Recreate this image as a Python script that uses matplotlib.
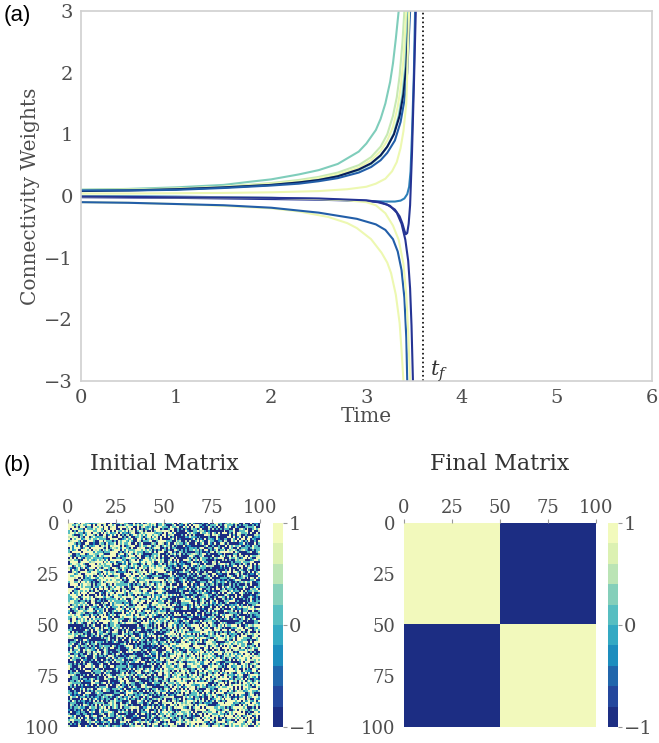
import numpy as np
import matplotlib
matplotlib.use("Agg")
import matplotlib.pyplot as plt
from matplotlib.colors import ListedColormap

# ---- data ----
# trajectories of the connectivity weights: (times, weights, colour)
curves = [
    # going up
    ([0, 0.5, 1, 1.5, 1.77, 2.0, 2.29, 2.5, 2.7, 2.92, 3.0, 3.1, 3.15, 3.2, 3.25, 3.28, 3.31, 3.34, 3.37],
     [0.10, 0.115, 0.14, 0.18, 0.23, 0.27, 0.35, 0.42, 0.52, 0.72, 0.85, 1.07, 1.25, 1.5, 1.85, 2.15, 2.55, 3.0, 3.6], '#7fcdbb'),
    ([0, 0.5, 1, 1.5, 2.0, 2.29, 2.5, 2.7, 2.92, 3.05, 3.15, 3.22, 3.28, 3.32, 3.35, 3.38, 3.40, 3.42],
     [0.09, 0.10, 0.12, 0.15, 0.21, 0.26, 0.31, 0.38, 0.50, 0.63, 0.80, 1.0, 1.3, 1.6, 1.95, 2.5, 3.0, 3.6], '#c7e9b4'),
    ([0, 0.5, 1, 1.5, 2.0, 2.29, 2.5, 2.7, 2.92, 3.05, 3.15, 3.22, 3.28, 3.33, 3.36, 3.39, 3.42, 3.44],
     [0.10, 0.11, 0.12, 0.15, 0.20, 0.24, 0.29, 0.35, 0.46, 0.58, 0.73, 0.90, 1.12, 1.45, 1.75, 2.2, 3.0, 3.6], '#edf8b1'),
    ([0, 0.5, 1, 1.5, 2.0, 2.29, 2.5, 2.7, 2.92, 3.05, 3.15, 3.22, 3.29, 3.34, 3.38, 3.41, 3.44, 3.46],
     [0.10, 0.10, 0.11, 0.14, 0.18, 0.22, 0.26, 0.32, 0.42, 0.52, 0.65, 0.80, 1.02, 1.3, 1.65, 2.1, 3.0, 3.6], '#7fcdbb'),
    ([0, 0.5, 1, 1.5, 2.0, 2.29, 2.5, 2.7, 2.92, 3.05, 3.15, 3.22, 3.29, 3.35, 3.39, 3.42, 3.45, 3.47],
     [0.08, 0.09, 0.11, 0.14, 0.18, 0.22, 0.26, 0.32, 0.43, 0.53, 0.66, 0.80, 1.0, 1.3, 1.65, 2.1, 3.0, 3.6], '#081d58'),
    ([0, 0.5, 1, 1.5, 2.0, 2.29, 2.5, 2.7, 2.92, 3.05, 3.15, 3.22, 3.30, 3.36, 3.40, 3.43, 3.46, 3.48],
     [0.09, 0.09, 0.10, 0.13, 0.17, 0.20, 0.24, 0.29, 0.38, 0.47, 0.58, 0.70, 0.90, 1.2, 1.55, 2.0, 3.0, 3.6], '#225ea8'),
    ([0, 0.5, 1, 1.5, 2.0, 2.5, 2.8, 3.0, 3.1, 3.2, 3.27, 3.32, 3.36, 3.39, 3.42, 3.45, 3.47],
     [0.04, 0.04, 0.045, 0.05, 0.06, 0.08, 0.11, 0.15, 0.20, 0.28, 0.40, 0.55, 0.78, 1.05, 1.5, 3.0, 3.6], '#edf8b1'),
    ([0, 1, 2, 2.5, 3.0, 3.2, 3.3, 3.36, 3.40, 3.43, 3.45, 3.465, 3.48, 3.50, 3.52],
     [0.0, -0.01, -0.03, -0.05, -0.08, -0.09, -0.09, -0.075, -0.04, 0.03, 0.15, 0.4, 1.0, 2.0, 3.6], '#2c7fb8'),
    ([0, 1, 2, 2.5, 3.0, 3.12, 3.22, 3.30, 3.35, 3.38, 3.40, 3.415, 3.43, 3.445, 3.46, 3.48, 3.50, 3.53],
     [-0.02, -0.03, -0.05, -0.06, -0.08, -0.10, -0.14, -0.22, -0.33, -0.45, -0.56, -0.62, -0.60, -0.45, -0.15, 0.7, 1.8, 3.6], '#253494'),
    # going down
    ([0, 0.5, 1, 1.5, 2, 2.29, 2.6, 2.8, 2.9, 3.05, 3.16, 3.22, 3.26, 3.31, 3.35, 3.37, 3.39, 3.41],
     [-0.10, -0.11, -0.13, -0.16, -0.20, -0.25, -0.34, -0.44, -0.52, -0.70, -0.92, -1.08, -1.25, -1.6, -2.06, -2.5, -3.0, -3.6], '#edf8b1'),
    ([0, 0.5, 1, 1.5, 2, 2.5, 2.9, 3.1, 3.2, 3.28, 3.33, 3.37, 3.40, 3.42, 3.43, 3.44],
     [-0.10, -0.11, -0.13, -0.15, -0.19, -0.27, -0.37, -0.46, -0.55, -0.70, -0.90, -1.2, -1.65, -2.3, -3.0, -3.6], '#225ea8'),
    ([0, 1, 2, 2.5, 2.8, 3.0, 3.1, 3.2, 3.28, 3.34, 3.39, 3.42, 3.44, 3.46, 3.47],
     [-0.01, -0.02, -0.03, -0.05, -0.07, -0.10, -0.15, -0.28, -0.48, -0.71, -1.1, -1.6, -2.2, -3.0, -3.6], '#edf8b1'),
    ([0, 1, 2, 2.5, 3.0, 3.15, 3.25, 3.32, 3.37, 3.41, 3.44, 3.46, 3.475, 3.49, 3.50],
     [-0.01, -0.02, -0.03, -0.04, -0.07, -0.10, -0.16, -0.27, -0.45, -0.71, -1.05, -1.5, -2.1, -3.0, -3.6], '#253494'),
]
t_final = 3.6

ticks = [0, 25, 50, 75, 100]
n_nodes = 100
# cell values seen in the initial matrix and how often they show up
cell_levels = [-1.0, -0.3, 0.1, 0.5, 1.0]
p_same_block = [0.25, 0.05, 0.25, 0.05, 0.40]
p_other_block = [0.45, 0.05, 0.25, 0.05, 0.20]
final_same, final_other = 1.0, -1.0

# ---- style ----
plt.rcParams['font.family'] = 'DejaVu Serif'
plt.rcParams['mathtext.fontset'] = 'dejavuserif'
txt = '#4d4d4d'

fig = plt.figure(figsize=(6.59, 7.43), dpi=100)

# (a) weights
ax = fig.add_axes([0.1229, 0.4872, 0.866, 0.498])
for t, w, c in curves:
    ax.plot(t, w, color=c, lw=1.5)
ax.axvline(t_final, color='black', ls=':', lw=1.2)
ax.text(t_final + 0.07, -2.92, '$t_f$', fontsize=15, color='#333333')
ax.set_xlim(0, 6)
ax.set_ylim(-3, 3)
ax.set_xticks(range(7))
ax.set_yticks(range(-3, 4))
ax.tick_params(length=0, labelsize=14, labelcolor=txt, pad=6)
for s in ax.spines.values():
    s.set_color('#d0d0d0')
    s.set_linewidth(1.2)
ax.set_xlabel('Time', fontsize=14.5, color=txt, labelpad=0)
ax.set_ylabel('Connectivity Weights', fontsize=14.5, color=txt, labelpad=3)
fig.text(0.006, 0.979, '(a)', fontsize=16, family='Liberation Sans', va='center')

# (b) matrices
grid = plt.get_cmap('YlGnBu')(np.linspace(0, 1, 12)[1:-1])[::-1]
cmap = ListedColormap(grid)

half = n_nodes // 2
same = np.zeros((n_nodes, n_nodes), dtype=bool)
same[:half, :half] = True
same[half:, half:] = True
# texture of the noisy start cannot be read cell by cell, so it is drawn
# with the proportions above
rng = np.random.default_rng(7)
init = np.where(same,
                rng.choice(cell_levels, size=same.shape, p=p_same_block),
                rng.choice(cell_levels, size=same.shape, p=p_other_block))
final = np.where(same, final_same, final_other)

panels = [(0.1032, 0.4143, init, 'Initial Matrix'),
          (0.613, 0.9226, final, 'Final Matrix')]
for left, cleft, mat, title in panels:
    hx = fig.add_axes([left, 0.0215, 0.2913, 0.2746])
    im = hx.imshow(mat, cmap=cmap, vmin=-1, vmax=1, aspect='auto',
                   interpolation='nearest', extent=[0, n_nodes, n_nodes, 0])
    hx.xaxis.tick_top()
    hx.set_xticks(ticks)
    hx.set_yticks(ticks)
    hx.tick_params(axis='x', length=3, color='#999999', labelsize=13, labelcolor=txt, pad=1)
    hx.tick_params(axis='y', length=0, labelsize=13, labelcolor=txt, pad=6)
    for s in hx.spines.values():
        s.set_visible(False)
    hx.set_title(title, fontsize=16, color='#333333', pad=38)
    cx = fig.add_axes([cleft, 0.0215, 0.0152, 0.2746])
    cb = fig.colorbar(im, cax=cx, ticks=[-1, 0, 1])
    cb.outline.set_visible(False)
    cx.tick_params(length=3, color='#999999', labelsize=14, labelcolor=txt, pad=1)

fig.text(0.006, 0.374, '(b)', fontsize=16, family='Liberation Sans', va='center')

fig.savefig('out.png', dpi=100)
